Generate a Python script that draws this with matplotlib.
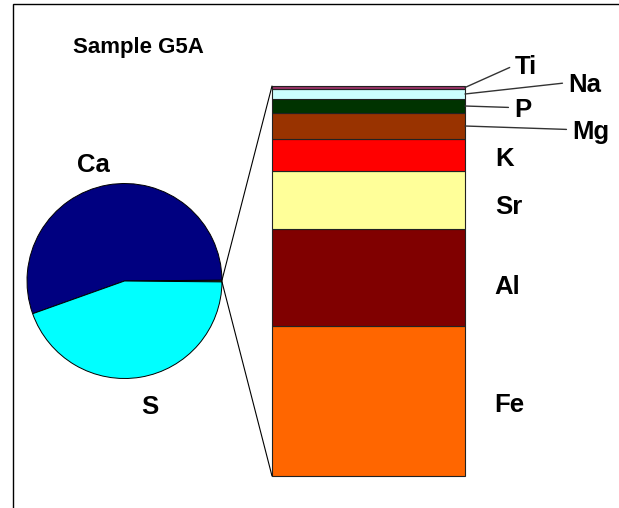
import matplotlib
matplotlib.use("Agg")
import matplotlib.pyplot as plt
from matplotlib.patches import ConnectionPatch, Rectangle
import numpy as np

plt.rcParams['font.family'] = ['Liberation Sans', 'DejaVu Sans']
plt.rcParams['font.weight'] = 'bold'

# pie: major elements plus the grouped "other" slice
pie_labels = ['Other', 'Ca', 'S']
pie_values = [0.3, 55.3, 44.4]
pie_colors = ['#808000', '#000080', '#00FFFF']

# bar: breakdown of the "other" slice (bottom to top)
bar_labels = ['Fe', 'Al', 'Sr', 'K', 'Mg', 'P', 'Na', 'Ti']
bar_values = [150, 97, 58, 32, 26, 14, 10, 3]
bar_colors = ['#FF6600', '#800000', '#FFFF99', '#FF0000', '#993300',
              '#003300', '#CCFFFF', '#993366']

W, H = 619, 508
FS = 18.5       # data labels
FS_TITLE = 16
fig = plt.figure(figsize=(W / 100, H / 100), dpi=100)

# outer frame (chart area border, cut off at right/bottom)
fig.add_artist(Rectangle((12.5 / W, -0.1), 1.2, (H - 4.5) / H + 0.1,
                         transform=fig.transFigure, fill=False,
                         ec='black', lw=1.0))

# ---- pie ----
ax1 = fig.add_axes([27 / W, (H - 378.5) / H, 195 / W, 195 / H])
other_deg = pie_values[0] / sum(pie_values) * 360
wedges, _ = ax1.pie(pie_values, colors=pie_colors, startangle=-other_deg / 2,
                    counterclock=True,
                    wedgeprops=dict(edgecolor='black', linewidth=0.7, clip_on=False))
ax1.set_xlim(-1, 1)
ax1.set_ylim(-1, 1)
ax1.set_aspect('equal')
ax1.axis('off')
ax1.text(-0.32, 1.19, 'Ca', fontsize=FS, fontweight='bold', ha='center', va='center')
ax1.text(0.26, -1.29, 'S', fontsize=FS, fontweight='bold', ha='center', va='center')

# ---- stacked bar ----
ax2 = fig.add_axes([272 / W, (H - 476) / H, 193 / W, 390 / H])
total = sum(bar_values)
bottom = 0
mids = []
for lab, val, col in zip(bar_labels, bar_values, bar_colors):
    ax2.bar(0, val, width=1.0, bottom=bottom, color=col,
            edgecolor='#222222', linewidth=0.8, clip_on=False)
    mids.append(bottom + val / 2)
    bottom += val
ax2.set_xlim(-0.5, 0.5)
ax2.set_ylim(0, total)
ax2.axis('off')

# connector lines from the "other" slice to the bar
for ang, yb in [(other_deg / 2, total), (-other_deg / 2, 0)]:
    t = np.deg2rad(ang)
    con = ConnectionPatch(xyA=(np.cos(t), np.sin(t)), coordsA=ax1.transData,
                          xyB=(-0.5, yb), coordsB=ax2.transData,
                          color='black', lw=0.8)
    fig.add_artist(con)

# bar labels: offsets in pixels from the bar's right edge at segment middle
label_offsets = {'Fe': (29, -4), 'Al': (29, -10), 'Sr': (30, -7), 'K': (30, -4),
                 'Mg': (107, -6), 'P': (49, -4), 'Na': (103, 9), 'Ti': (50, 20)}
leader = {'Mg', 'P', 'Na', 'Ti'}
for lab, ym in zip(bar_labels, mids):
    dx, dy = label_offsets[lab]
    kw = {}
    if lab in leader:
        kw['arrowprops'] = dict(arrowstyle='-', color='#333333', lw=1.0,
                                relpos=(0, 0.6), shrinkA=2, shrinkB=0)
    ax2.annotate(lab, xy=(0.5, ym), xytext=(dx, dy), textcoords='offset pixels',
                 fontsize=FS, fontweight='bold', ha='left', va='center',
                 annotation_clip=False, **kw)

fig.text(73 / W, (H - 48) / H, 'Sample G5A', fontsize=FS_TITLE, fontweight='bold',
         ha='left', va='center')

fig.savefig('out.png', dpi=100)
